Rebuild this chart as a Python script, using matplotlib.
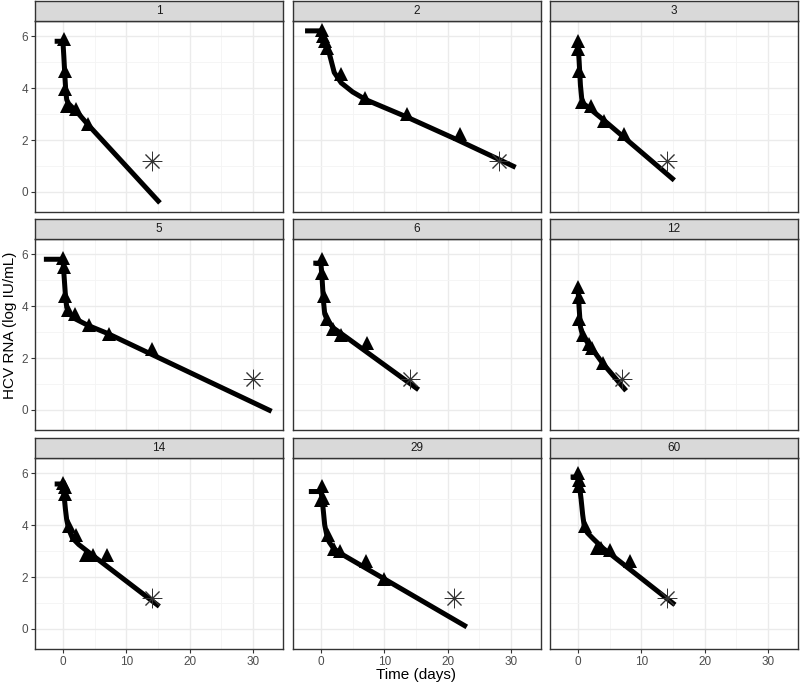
import matplotlib
matplotlib.use("Agg")
import matplotlib.pyplot as plt

plt.rcParams['font.family'] = ['Liberation Sans', 'DejaVu Sans']

# panel ids
patients = ['1', '2', '3', '5', '6', '12', '14', '29', '60']

# observed HCV RNA (triangles)
obs_days = [
    [0.1, 0.4, 0.4, 0.7, 2.1, 4.0],
    [0.2, 0.4, 0.6, 0.9, 3.1, 7.0, 13.5, 22.0],
    [0.0, 0.0, 0.2, 0.7, 2.0, 4.1, 7.2],
    [0.0, 0.1, 0.4, 0.8, 1.9, 4.1, 7.2, 14.0],
    [0.2, 0.2, 0.5, 0.9, 1.9, 3.1, 7.2],
    [0.05, 0.1, 0.2, 0.8, 1.7, 2.2, 3.9],
    [0.0, 0.3, 0.4, 0.9, 2.1, 3.6, 4.8, 7.0],
    [0.0, 0.2, 0.4, 1.1, 2.0, 3.0, 7.1, 10.0],
    [0.0, 0.1, 0.1, 1.05, 3.0, 3.6, 5.1, 8.2],
]
obs_vl = [
    [5.87, 4.65, 3.95, 3.3, 3.2, 2.6],
    [6.25, 6.0, 5.8, 5.55, 4.55, 3.6, 3.0, 2.25],
    [5.8, 5.5, 4.65, 3.45, 3.3, 2.75, 2.25],
    [5.85, 5.5, 4.4, 3.85, 3.68, 3.27, 2.91, 2.34],
    [5.8, 5.27, 4.38, 3.5, 3.1, 2.87, 2.57],
    [4.75, 4.35, 3.5, 2.87, 2.55, 2.4, 1.8],
    [5.6, 5.45, 5.2, 3.95, 3.63, 2.83, 2.83, 2.83],
    [4.95, 5.5, 5.05, 3.63, 3.08, 2.99, 2.63, 1.93],
    [6.0, 5.75, 5.5, 3.95, 3.1, 3.1, 3.05, 2.6],
]

# model fit (thick line)
fit_days = [
    [-1.3, 0, 0.15, 0.3, 0.45, 0.6, 0.9, 1.5, 2.5, 4.0, 15.3],
    [-2.5, 0, 0.5, 1.2, 2.1, 3.2, 5.0, 7.1, 13.4, 21.3, 30.7],
    [0, 0.2, 0.4, 0.6, 0.9, 4.3, 15.2],
    [-3.0, 0, 0.2, 0.4, 0.6, 1.0, 2.0, 4.0, 7.0, 32.9],
    [-1.2, 0, 0.2, 0.4, 0.6, 1.0, 2.0, 4.0, 15.4],
    [0, 0.2, 0.4, 0.7, 1.5, 3.9, 7.6],
    [-1.3, 0, 0.2, 0.4, 0.6, 0.9, 1.5, 2.5, 4.6, 15.2],
    [-1.9, 0, 0.2, 0.4, 0.6, 0.9, 1.3, 2.0, 3.0, 23.0],
    [-1.15, 0, 0.25, 0.5, 0.75, 1.0, 1.5, 2.5, 4.0, 15.3],
]
fit_vl = [
    [5.8, 5.8, 5.2, 4.5, 3.9, 3.55, 3.4, 3.25, 3.0, 2.58, -0.42],
    [6.2, 6.2, 5.9, 5.45, 4.6, 4.2, 3.85, 3.55, 2.9, 2.03, 0.95],
    [5.8, 5.0, 4.1, 3.6, 3.4, 2.72, 0.45],
    [5.8, 5.8, 5.1, 4.4, 3.95, 3.7, 3.5, 3.25, 2.95, -0.05],
    [5.65, 5.65, 5.0, 4.2, 3.7, 3.45, 3.15, 2.8, 0.78],
    [4.75, 3.9, 3.2, 2.9, 2.6, 1.8, 0.74],
    [5.58, 5.58, 5.1, 4.6, 4.2, 3.85, 3.5, 3.25, 2.85, 0.87],
    [5.29, 5.29, 5.0, 4.5, 4.0, 3.65, 3.35, 3.1, 2.92, 0.08],
    [5.85, 5.85, 5.5, 5.0, 4.4, 3.95, 3.7, 3.45, 3.1, 0.93],
]

# below-LLOQ observation (asterisk)
blq_day = [14, 28, 14, 30, 14, 7, 14, 21, 14]
blq_vl = [1.2, 1.2, 1.2, 1.2, 1.2, 1.2, 1.2, 1.2, 1.2]

W, H = 800, 684
fig = plt.figure(figsize=(8, 6.84), dpi=100)

col_left = [35, 293, 550]
pw = 248
row_strip = [1, 219, 438]
sh = 20
ph = 191

for i, pid in enumerate(patients):
    r, c = divmod(i, 3)
    x0 = col_left[c]
    st = row_strip[r]
    ax = fig.add_axes([x0 / W, 1 - (st + sh + ph) / H, pw / W, ph / H])
    sax = fig.add_axes([x0 / W, 1 - (st + sh) / H, pw / W, sh / H])

    ax.set_xlim(-4.4, 34.7)
    ax.set_ylim(-0.77, 6.58)
    ax.set_xticks([0, 10, 20, 30])
    ax.set_xticks([5, 15, 25], minor=True)
    ax.set_yticks([0, 2, 4, 6])
    ax.set_yticks([1, 3, 5], minor=True)
    ax.grid(True, which='major', color='#EBEBEB', lw=1.0)
    ax.grid(True, which='minor', color='#F4F4F4', lw=0.6)
    ax.set_axisbelow(True)
    for s in ax.spines.values():
        s.set_color('#333333')
        s.set_linewidth(1.0)
    ax.tick_params(which='minor', length=0)
    ax.tick_params(which='major', length=3, color='#333333', labelsize=8.5,
                   labelcolor='#4D4D4D', pad=2)
    if c != 0:
        ax.tick_params(axis='y', left=False, labelleft=False)
    if r != 2:
        ax.tick_params(axis='x', bottom=False, labelbottom=False)

    ax.plot(fit_days[i], fit_vl[i], color='black', lw=3.6,
            solid_capstyle='butt', zorder=3)
    ax.plot(obs_days[i], obs_vl[i], '^', color='black', ms=10.5, mew=0, zorder=4)
    ax.plot(blq_day[i], blq_vl[i], marker=(8, 2, 0), color='#333333',
            ms=14, mew=0.7, ls='none', zorder=5)

    sax.set_facecolor('#D9D9D9')
    sax.set_xticks([])
    sax.set_yticks([])
    for s in sax.spines.values():
        s.set_color('#333333')
        s.set_linewidth(1.0)
    sax.text(0.5, 0.5, pid, ha='center', va='center', fontsize=8.5,
             color='#1A1A1A', transform=sax.transAxes)

fig.text(10 / W, 1 - 325 / H, 'HCV RNA (log IU/mL)', rotation=90,
         ha='center', va='center', fontsize=11)
fig.text(416 / W, 1 - 675 / H, 'Time (days)', ha='center', va='center',
         fontsize=11)

fig.savefig('out.png', dpi=100)
